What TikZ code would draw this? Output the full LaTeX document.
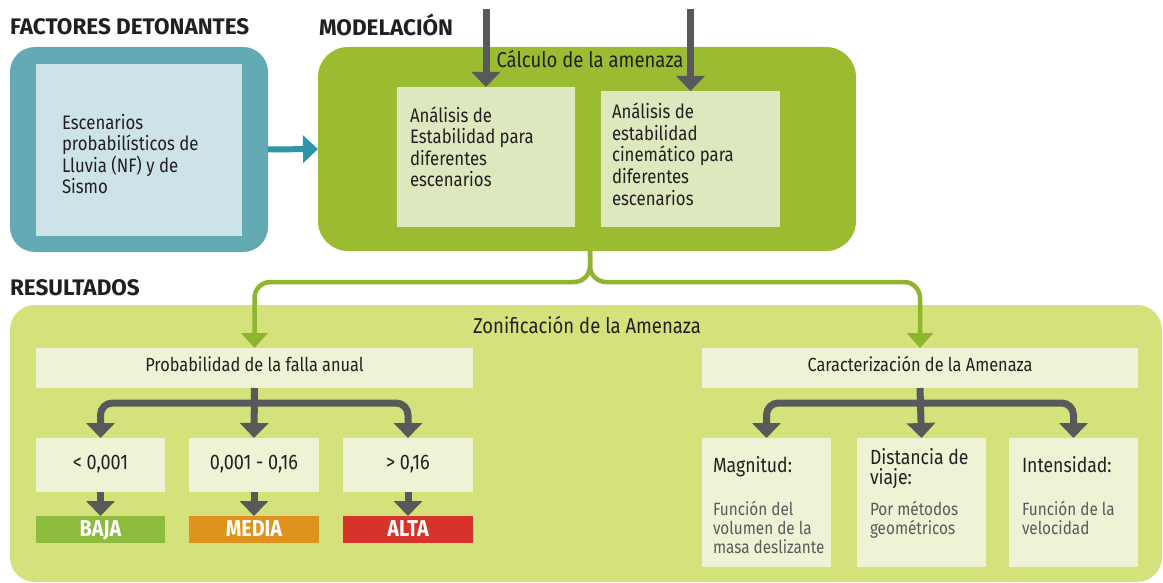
\documentclass[tikz,border=0pt]{standalone}
\usepackage{fontspec}
\setmainfont{Fira Sans}[FakeStretch=0.86]
\newfontfamily\tfont{Fira Sans}
\usetikzlibrary{arrows.meta}
\definecolor{tealout}{HTML}{63AAB5}
\definecolor{tealin}{HTML}{CDE3E8}
\definecolor{tealarr}{HTML}{2C96A6}
\definecolor{gbox}{HTML}{9BBB30}
\definecolor{gin}{HTML}{DDE8BE}
\definecolor{gline}{HTML}{8DB62D}
\definecolor{resbg}{HTML}{D5E17A}
\definecolor{resin}{HTML}{EEF3D5}
\definecolor{arrgray}{HTML}{58595B}
\definecolor{txt}{HTML}{231F20}
\definecolor{subtxt}{HTML}{5A5A5A}
\definecolor{baja}{HTML}{8DBB3E}
\definecolor{media}{HTML}{E0921E}
\definecolor{alta}{HTML}{D6332A}
\begin{document}
\begin{tikzpicture}[x=1pt,y=-1pt,
  box/.style={inner sep=0pt,outer sep=0pt,draw=none},
  lbl/.style={inner sep=0pt,outer sep=0pt,text=txt,align=left,anchor=base west},
  ctr/.style={inner sep=0pt,outer sep=0pt,text=txt,anchor=base},
  title/.style={inner sep=0pt,outer sep=0pt,text=txt,anchor=base west,font=\tfont\bfseries\fontsize{22.5}{24}\selectfont},
  body/.style={font=\fontsize{19.5}{21.6}\selectfont},
  head/.style={font=\fontsize{21.5}{24}\selectfont},
  mid/.style={font=\fontsize{19}{22}\selectfont},
  num/.style={font=\fontsize{21}{22}\selectfont},
  sub/.style={font=\fontsize{17.8}{19}\selectfont,text=subtxt},
  bigl/.style={font=\fontsize{20.5}{20}\selectfont},
  barlbl/.style={ctr,text=white,font=\bfseries\fontsize{23}{24}\selectfont},
  garr/.style={draw=arrgray,line width=7pt,-{Triangle[length=15pt,width=28pt]}},
  tarr/.style={draw=gline,line width=4.5pt,rounded corners=16pt,-{Triangle[length=15pt,width=26pt]}},
  teala/.style={draw=tealarr,line width=6pt,-{Triangle[length=15pt,width=27pt]}}
]
\useasboundingbox (0,0) rectangle (1163,583);
\fill[white] (0,0) rectangle (1163,583);

% titles
\node[title] (tFact) at (10,35) {FACTORES DETONANTES};
\node[title] (tMod) at (319,36) {MODELACIÓN};
\node[title] (tRes) at (10,295) {RESULTADOS};

% factores
\node[box,fill=tealout,rounded corners=25pt,minimum width=258pt,minimum height=205pt] (tout) at (139,149.5) {};
\node[box,fill=tealin,minimum width=206pt,minimum height=172pt] (tin) at (139,150) {};
\node[lbl,body] (tText) at (62,194) {Escenarios\\probabilísticos de\\Lluvia (NF) y de\\Sismo};

% modelacion
\node[box,fill=gbox,rounded corners=30pt,minimum width=538pt,minimum height=204pt] (gbx) at (587,149) {};
\node[box,fill=gin,minimum width=178pt,minimum height=140pt] (b1) at (486,157) {};
\node[box,fill=gin,minimum width=179pt,minimum height=136pt] (b2) at (690.5,159) {};
\node[ctr,head] (calc) at (590,68) {Cálculo de la amenaza};
\node[lbl,body] (b1t) at (410,187) {Análisis de\\Estabilidad para\\diferentes\\escenarios};
\node[lbl,body] (b2t) at (612,205) {Análisis de\\estabilidad\\cinemático para\\diferentes\\escenarios};

\coordinate (top) at (0,9);
\draw[garr] (b1.north |- top) -- (b1.north);
\draw[garr] (b2.north |- top) -- (b2.north);
\draw[teala] (tout.east) -- (gbx.west);

% resultados
\node[box,fill=resbg,rounded corners=25pt,minimum width=1152pt,minimum height=277pt] (res) at (586,443.5) {};
\node[ctr,head] (zon) at (587,333) {Zonificación de la Amenaza};

\node[box,fill=resin,minimum width=437pt,minimum height=40pt] (prob) at (254.5,368) {};
\node[ctr,mid] (probt) at (254.5,371) {Probabilidad de la falla anual};
\node[box,fill=resin,minimum width=436pt,minimum height=40pt] (car) at (920,368) {};
\node[ctr,mid] (cart) at (920,371) {Caracterización de la Amenaza};

% green brace
\coordinate (gsplit) at (590,282);
\draw[tarr] (gsplit |- gbx.south) -- (gsplit) -| (prob.north);
\draw[tarr] (gsplit |- gbx.south) -- (gsplit) -| (car.north);

% left tree
\node[box,fill=resin,minimum width=129pt,minimum height=54pt] (s1) at (100.5,465) {};
\node[box,fill=resin,minimum width=130pt,minimum height=54pt] (s2) at (254,465) {};
\node[box,fill=resin,minimum width=130pt,minimum height=54pt] (s3) at (408,465) {};
\node[ctr,num] (s1t) at (100.5,469) {< 0,001};
\node[ctr,num] (s2t) at (254,469) {0,001 - 0,16};
\node[ctr,num] (s3t) at (408,469) {> 0,16};
\node[box,fill=baja,minimum width=129pt,minimum height=27pt] (r1) at (100.5,529.5) {};
\node[box,fill=media,minimum width=130pt,minimum height=27pt] (r2) at (254,529.5) {};
\node[box,fill=alta,minimum width=130pt,minimum height=27pt] (r3) at (408,529.5) {};
\node[barlbl] (r1t) at (100.5,536) {BAJA};
\node[barlbl] (r2t) at (254,536) {MEDIA};
\node[barlbl] (r3t) at (408,536) {ALTA};

\coordinate (hl) at (0,403);
\coordinate (jl) at (prob.south |- hl);
\draw[garr] (prob.south) -- (s2.north);
\draw[garr,rounded corners=12pt] (jl) -| (s1.north);
\draw[garr,rounded corners=12pt] (jl) -| (s3.north);
\draw[garr] (s1.south) -- (r1.north);
\draw[garr] (s2.south) -- (r2.north);
\draw[garr] (s3.south) -- (r3.north);

% right tree
\node[box,fill=resin,minimum width=129pt,minimum height=129pt] (m1) at (766.5,502.5) {};
\node[box,fill=resin,minimum width=129pt,minimum height=129pt] (m2) at (921.5,502.5) {};
\node[box,fill=resin,minimum width=129pt,minimum height=129pt] (m3) at (1073.5,502.5) {};
\node[lbl,bigl] (m1a) at (713,472) {Magnitud:};
\node[lbl,sub] (m1b) at (713,553) {Función del\\volumen de la\\masa deslizante};
\node[lbl,bigl] (m2a) at (870,484) {Distancia de\\viaje:};
\node[lbl,sub] (m2b) at (870,534) {Por métodos\\geométricos};
\node[lbl,bigl] (m3a) at (1022,472) {Intensidad:};
\node[lbl,sub] (m3b) at (1022,534) {Función de la\\velocidad};

\coordinate (jr) at (car.south |- hl);
\draw[garr] (car.south) -- (m2.north);
\draw[garr,rounded corners=12pt] (jr) -| (m1.north);
\draw[garr,rounded corners=12pt] (jr) -| (m3.north);
\end{tikzpicture}
\end{document}
